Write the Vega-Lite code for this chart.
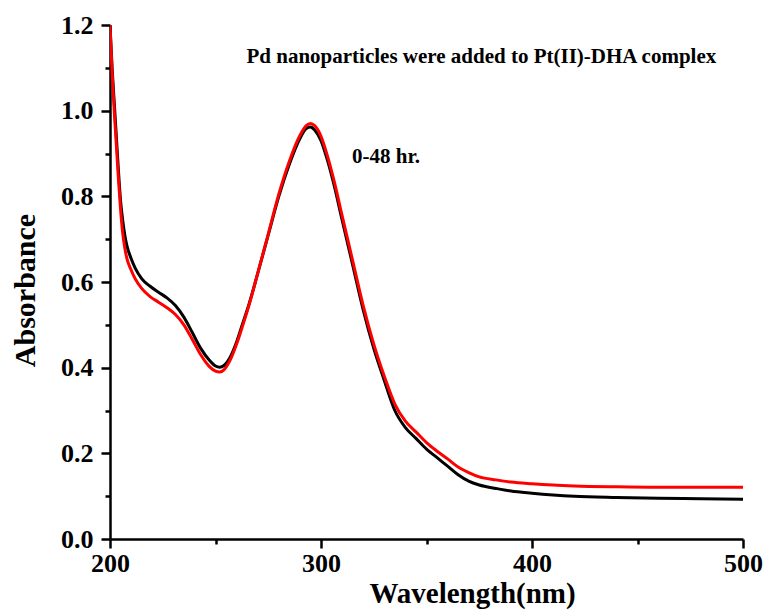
{
  "$schema": "https://vega.github.io/schema/vega-lite/v6.json",
  "width": 633,
  "height": 514,
  "autosize": {"type": "none"},
  "padding": {"left": 110, "top": 25, "right": 25, "bottom": 75},
  "background": "white",
  "config": {"view": {"stroke": null}, "font": "Liberation Serif"},
  "resolve": {"axis": {"x": "independent", "y": "independent"}},
  "datasets": {
    "spectra": [
      {"wl":200,"abs":1.20,"series":"0 hr"},{"wl":201,"abs":1.10,"series":"0 hr"},{"wl":202,"abs":1.02,"series":"0 hr"},{"wl":203,"abs":0.94,"series":"0 hr"},{"wl":204,"abs":0.86,"series":"0 hr"},{"wl":205,"abs":0.79,"series":"0 hr"},{"wl":206,"abs":0.745,"series":"0 hr"},{"wl":207,"abs":0.71,"series":"0 hr"},{"wl":208,"abs":0.685,"series":"0 hr"},{"wl":210,"abs":0.655,"series":"0 hr"},{"wl":212,"abs":0.632,"series":"0 hr"},{"wl":215,"abs":0.608,"series":"0 hr"},{"wl":219,"abs":0.59,"series":"0 hr"},{"wl":223,"abs":0.576,"series":"0 hr"},{"wl":227,"abs":0.563,"series":"0 hr"},{"wl":231,"abs":0.545,"series":"0 hr"},{"wl":235,"abs":0.518,"series":"0 hr"},{"wl":239,"abs":0.482,"series":"0 hr"},{"wl":243,"abs":0.445,"series":"0 hr"},{"wl":247,"abs":0.418,"series":"0 hr"},{"wl":250,"abs":0.404,"series":"0 hr"},{"wl":252,"abs":0.401,"series":"0 hr"},{"wl":254,"abs":0.405,"series":"0 hr"},{"wl":257,"abs":0.425,"series":"0 hr"},{"wl":260,"abs":0.46,"series":"0 hr"},{"wl":263,"abs":0.505,"series":"0 hr"},{"wl":266,"abs":0.55,"series":"0 hr"},{"wl":270,"abs":0.62,"series":"0 hr"},{"wl":275,"abs":0.71,"series":"0 hr"},{"wl":280,"abs":0.80,"series":"0 hr"},{"wl":285,"abs":0.875,"series":"0 hr"},{"wl":290,"abs":0.935,"series":"0 hr"},{"wl":293,"abs":0.958,"series":"0 hr"},{"wl":295,"abs":0.962,"series":"0 hr"},{"wl":297,"abs":0.955,"series":"0 hr"},{"wl":300,"abs":0.93,"series":"0 hr"},{"wl":303,"abs":0.885,"series":"0 hr"},{"wl":306,"abs":0.83,"series":"0 hr"},{"wl":310,"abs":0.745,"series":"0 hr"},{"wl":315,"abs":0.64,"series":"0 hr"},{"wl":320,"abs":0.535,"series":"0 hr"},{"wl":325,"abs":0.445,"series":"0 hr"},{"wl":330,"abs":0.37,"series":"0 hr"},{"wl":335,"abs":0.3,"series":"0 hr"},{"wl":340,"abs":0.26,"series":"0 hr"},{"wl":345,"abs":0.235,"series":"0 hr"},{"wl":350,"abs":0.21,"series":"0 hr"},{"wl":355,"abs":0.19,"series":"0 hr"},{"wl":360,"abs":0.17,"series":"0 hr"},{"wl":365,"abs":0.15,"series":"0 hr"},{"wl":370,"abs":0.135,"series":"0 hr"},{"wl":375,"abs":0.126,"series":"0 hr"},{"wl":383,"abs":0.118,"series":"0 hr"},{"wl":390,"abs":0.112,"series":"0 hr"},{"wl":400,"abs":0.107,"series":"0 hr"},{"wl":410,"abs":0.103,"series":"0 hr"},{"wl":420,"abs":0.1,"series":"0 hr"},{"wl":440,"abs":0.097,"series":"0 hr"},{"wl":460,"abs":0.095,"series":"0 hr"},{"wl":480,"abs":0.094,"series":"0 hr"},{"wl":500,"abs":0.093,"series":"0 hr"},
      {"wl":200,"abs":1.20,"series":"48 hr"},{"wl":201,"abs":1.09,"series":"48 hr"},{"wl":202,"abs":1.0,"series":"48 hr"},{"wl":203,"abs":0.92,"series":"48 hr"},{"wl":204,"abs":0.84,"series":"48 hr"},{"wl":205,"abs":0.77,"series":"48 hr"},{"wl":206,"abs":0.715,"series":"48 hr"},{"wl":207,"abs":0.68,"series":"48 hr"},{"wl":208,"abs":0.655,"series":"48 hr"},{"wl":210,"abs":0.628,"series":"48 hr"},{"wl":212,"abs":0.607,"series":"48 hr"},{"wl":215,"abs":0.585,"series":"48 hr"},{"wl":219,"abs":0.566,"series":"48 hr"},{"wl":223,"abs":0.553,"series":"48 hr"},{"wl":227,"abs":0.54,"series":"48 hr"},{"wl":231,"abs":0.524,"series":"48 hr"},{"wl":235,"abs":0.5,"series":"48 hr"},{"wl":239,"abs":0.466,"series":"48 hr"},{"wl":243,"abs":0.43,"series":"48 hr"},{"wl":247,"abs":0.403,"series":"48 hr"},{"wl":250,"abs":0.392,"series":"48 hr"},{"wl":252,"abs":0.39,"series":"48 hr"},{"wl":254,"abs":0.395,"series":"48 hr"},{"wl":257,"abs":0.418,"series":"48 hr"},{"wl":260,"abs":0.455,"series":"48 hr"},{"wl":263,"abs":0.5,"series":"48 hr"},{"wl":266,"abs":0.548,"series":"48 hr"},{"wl":270,"abs":0.62,"series":"48 hr"},{"wl":275,"abs":0.712,"series":"48 hr"},{"wl":280,"abs":0.805,"series":"48 hr"},{"wl":285,"abs":0.882,"series":"48 hr"},{"wl":290,"abs":0.942,"series":"48 hr"},{"wl":293,"abs":0.965,"series":"48 hr"},{"wl":295,"abs":0.97,"series":"48 hr"},{"wl":297,"abs":0.965,"series":"48 hr"},{"wl":300,"abs":0.94,"series":"48 hr"},{"wl":303,"abs":0.895,"series":"48 hr"},{"wl":306,"abs":0.84,"series":"48 hr"},{"wl":310,"abs":0.755,"series":"48 hr"},{"wl":315,"abs":0.65,"series":"48 hr"},{"wl":320,"abs":0.545,"series":"48 hr"},{"wl":325,"abs":0.455,"series":"48 hr"},{"wl":330,"abs":0.38,"series":"48 hr"},{"wl":335,"abs":0.315,"series":"48 hr"},{"wl":340,"abs":0.275,"series":"48 hr"},{"wl":345,"abs":0.25,"series":"48 hr"},{"wl":350,"abs":0.225,"series":"48 hr"},{"wl":355,"abs":0.205,"series":"48 hr"},{"wl":360,"abs":0.187,"series":"48 hr"},{"wl":365,"abs":0.168,"series":"48 hr"},{"wl":370,"abs":0.155,"series":"48 hr"},{"wl":375,"abs":0.145,"series":"48 hr"},{"wl":383,"abs":0.138,"series":"48 hr"},{"wl":390,"abs":0.133,"series":"48 hr"},{"wl":400,"abs":0.129,"series":"48 hr"},{"wl":410,"abs":0.126,"series":"48 hr"},{"wl":420,"abs":0.124,"series":"48 hr"},{"wl":440,"abs":0.122,"series":"48 hr"},{"wl":460,"abs":0.121,"series":"48 hr"},{"wl":480,"abs":0.121,"series":"48 hr"},{"wl":500,"abs":0.121,"series":"48 hr"}
    ],
    "notes": [
      {"wl": 376, "abs": 1.125, "label": "Pd nanoparticles were added to Pt(II)-DHA complex", "kind": "title"},
      {"wl": 314.7, "abs": 0.892, "label": "0-48 hr.", "kind": "range"}
    ],
    "minorx": [{"wl": 250}, {"wl": 350}, {"wl": 450}],
    "minory": [{"abs": 0.1}, {"abs": 0.3}, {"abs": 0.5}, {"abs": 0.7}, {"abs": 0.9}, {"abs": 1.1}]
  },
  "layer": [
    {
      "data": {"name": "spectra"},
      "mark": {"type": "line", "strokeWidth": 3, "interpolate": "monotone", "clip": true},
      "encoding": {
        "x": {
          "field": "wl", "type": "quantitative",
          "scale": {"domain": [200, 500], "nice": false, "zero": false},
          "axis": {
            "orient": "bottom", "values": [200, 300, 400, 500], "format": "d",
            "title": "Wavelength(nm)", "titleFont": "Liberation Serif", "titleFontWeight": "bold", "titleFontSize": 29, "titleColor": "black", "titlePadding": 3, "titleX": 362,
            "labelFont": "Liberation Serif", "labelFontWeight": "bold", "labelFontSize": 26, "labelColor": "black", "labelPadding": 2,
            "domainColor": "black", "domainWidth": 2.5, "tickColor": "black", "tickWidth": 2.5, "tickSize": 9,
            "grid": false, "labelOverlap": false, "labelFlush": false
          }
        },
        "y": {
          "field": "abs", "type": "quantitative",
          "scale": {"domain": [0, 1.2], "nice": false},
          "axis": {
            "orient": "left", "values": [0, 0.2, 0.4, 0.6, 0.8, 1.0, 1.2], "format": ".1f",
            "title": "Absorbance", "titleFont": "Liberation Serif", "titleFontWeight": "bold", "titleFontSize": 30, "titleColor": "black", "titlePadding": 20, "titleY": 265,
            "labelFont": "Liberation Serif", "labelFontWeight": "bold", "labelFontSize": 26, "labelColor": "black", "labelPadding": 8,
            "domainColor": "black", "domainWidth": 2.5, "tickColor": "black", "tickWidth": 2.5, "tickSize": 9,
            "grid": false, "labelOverlap": false, "labelFlush": false
          }
        },
        "color": {
          "field": "series", "type": "nominal",
          "scale": {"domain": ["0 hr", "48 hr"], "range": ["#000000", "#ff0000"]},
          "legend": null
        }
      }
    },
    {
      "data": {"name": "minorx"},
      "mark": {"type": "tick", "opacity": 0},
      "encoding": {
        "x": {
          "field": "wl", "type": "quantitative",
          "axis": {"orient": "bottom", "values": [250, 350, 450], "labels": false, "title": null, "domain": false, "grid": false, "tickColor": "black", "tickWidth": 2.5, "tickSize": 5}
        }
      }
    },
    {
      "data": {"name": "minory"},
      "mark": {"type": "tick", "opacity": 0},
      "encoding": {
        "y": {
          "field": "abs", "type": "quantitative",
          "axis": {"orient": "left", "values": [0.1, 0.3, 0.5, 0.7, 0.9, 1.1], "labels": false, "title": null, "domain": false, "grid": false, "tickColor": "black", "tickWidth": 2.5, "tickSize": 5}
        }
      }
    },
    {
      "data": {"name": "notes"},
      "transform": [{"filter": "datum.kind == 'title'"}],
      "mark": {"type": "text", "font": "Liberation Serif", "fontWeight": "bold", "fontSize": 21, "align": "center", "baseline": "middle", "color": "black"},
      "encoding": {
        "x": {"field": "wl", "type": "quantitative", "axis": null},
        "y": {"field": "abs", "type": "quantitative", "axis": null},
        "text": {"field": "label"}
      }
    },
    {
      "data": {"name": "notes"},
      "transform": [{"filter": "datum.kind == 'range'"}],
      "mark": {"type": "text", "font": "Liberation Serif", "fontWeight": "bold", "fontSize": 21, "align": "left", "baseline": "middle", "color": "black"},
      "encoding": {
        "x": {"field": "wl", "type": "quantitative", "axis": null},
        "y": {"field": "abs", "type": "quantitative", "axis": null},
        "text": {"field": "label"}
      }
    }
  ]
}
